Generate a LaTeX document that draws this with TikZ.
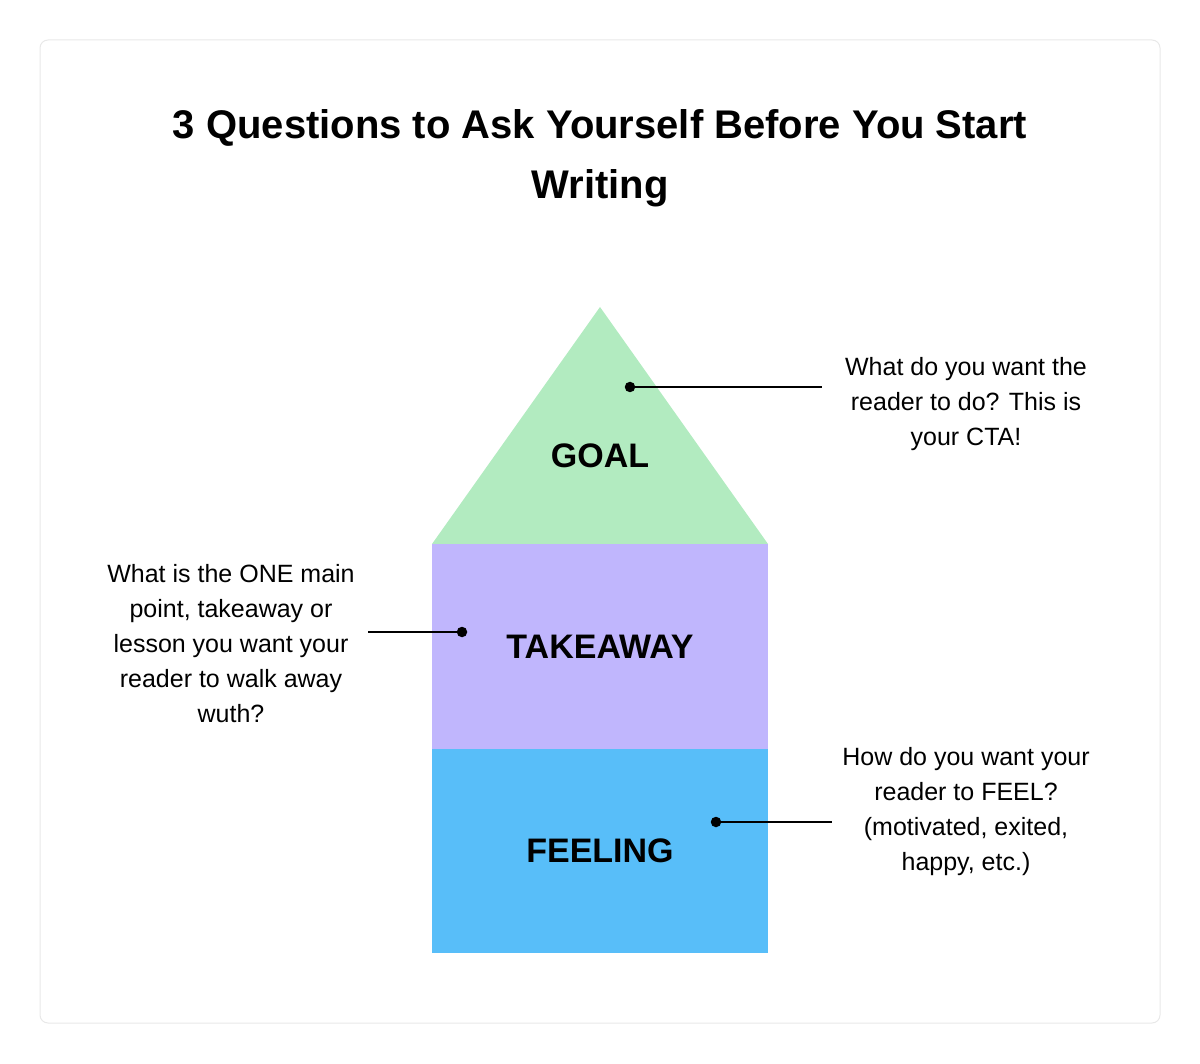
\documentclass[tikz,border=0pt]{standalone}
\usepackage{fontspec}
\setmainfont{Liberation Sans}
\definecolor{goalgreen}{RGB}{178,235,192}
\definecolor{takepurple}{RGB}{192,182,253}
\definecolor{feelblue}{RGB}{88,190,249}
\definecolor{cardline}{RGB}{232,232,232}
\begin{document}
\begin{tikzpicture}[x=1pt,y=-1pt,
  layer/.style={font=\fontsize{34}{40}\selectfont\bfseries},
  note/.style={align=center,font=\fontsize{25}{35}\selectfont},
  dotmark/.style={circle,fill=black,inner sep=0pt,minimum size=10.5pt},
  pointer/.style={line width=1.8pt}]
\useasboundingbox (0,0) rectangle (1200,1064);
\draw[cardline,line width=1pt,rounded corners=8pt] (40,40) rectangle (1160,1023);

% title
\node[align=center,font=\fontsize{40}{60}\selectfont\bfseries] (title) at (600,158)
  {3 Questions to Ask Yourself Before You Start\\Writing};

% the house
\fill[goalgreen] (600,307) -- (768,544) -- (432,544) -- cycle;
\fill[takepurple] (432,544) rectangle (768,749);
\fill[feelblue] (432,749) rectangle (768,953);

\node[layer] (goal) at (600,456) {GOAL};
\node[layer] (takeaway) at (600,647) {TAKEAWAY};
\node[layer] (feeling) at (600,851) {FEELING};

% notes
\node[note] (goalnote) at (966,404)
  {What do you want the\\reader to do? This is\\your CTA!};
\node[note] (takenote) at (231,644)
  {What is the ONE main\\point, takeaway or\\lesson you want your\\reader to walk away\\wuth?};
\node[note] (feelnote) at (966,812)
  {How do you want your\\reader to FEEL?\\(motivated, exited,\\happy, etc.)};

% pointers
\node[dotmark] (goaldot) at (630,387) {};
\node[dotmark] (takedot) at (462,632) {};
\node[dotmark] (feeldot) at (716,822) {};
\coordinate (goalend) at (822,387);
\coordinate (takeend) at (368,632);
\coordinate (feelend) at (832,822);
\draw[pointer] (goaldot.center) -- (goalend);
\draw[pointer] (takedot.center) -- (takeend);
\draw[pointer] (feeldot.center) -- (feelend);

\end{tikzpicture}
\end{document}
